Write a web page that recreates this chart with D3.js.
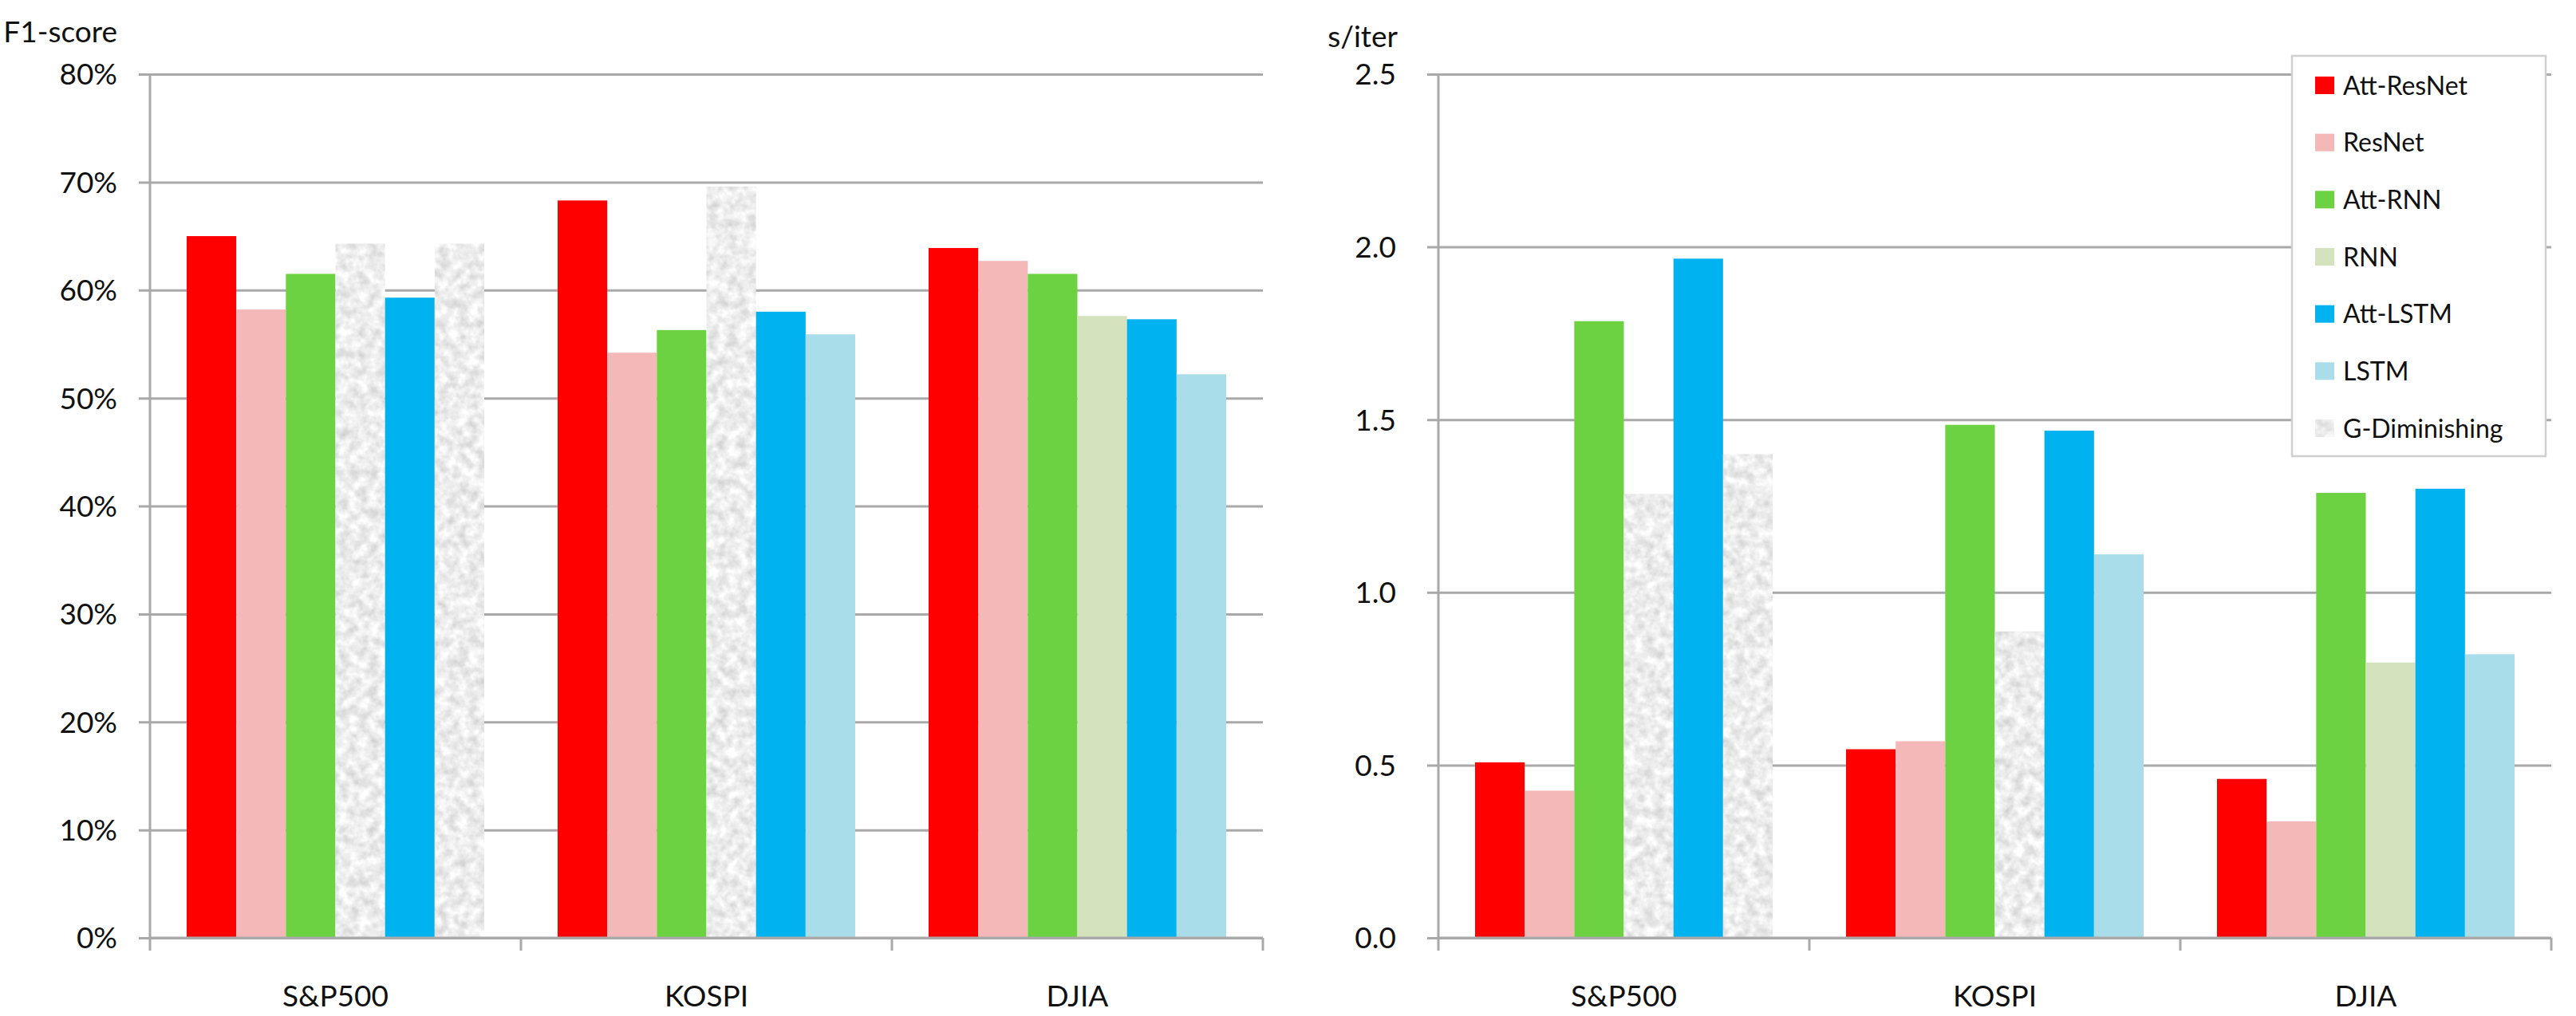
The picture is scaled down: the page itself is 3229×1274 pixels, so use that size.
<!DOCTYPE html>
<html>
<head>
<meta charset="utf-8">
<script src="https://cdn.jsdelivr.net/npm/d3@7"></script>
<style>
  html, body { margin: 0; padding: 0; background: #fff; }
  svg { display: block; }
  text { font-family: Lato, "Open Sans", sans-serif; fill: #111; }
</style>
</head>
<body>
<svg id="chart" width="3229" height="1274"></svg>
<script>
// ---------- data ----------
const categories = ["S&P500", "KOSPI", "DJIA"];
const seriesNames = ["Att-ResNet", "ResNet", "Att-RNN", "RNN", "Att-LSTM", "LSTM"];
const legendNames = ["Att-ResNet", "ResNet", "Att-RNN", "RNN", "Att-LSTM", "LSTM", "G-Diminishing"];
const seriesColors = ["#ff0000", "#f4b8b8", "#6cd241", "#d4e3bd", "#00b2f0", "#a8dde9"];

// F1-score per series, one value per category (S&P500, KOSPI, DJIA)
const f1AttResNet = [0.650, 0.683, 0.639];
const f1ResNet    = [0.582, 0.542, 0.627];
const f1AttRNN    = [0.615, 0.563, 0.615];
const f1RNN       = [0.643, 0.696, 0.576];
const f1AttLSTM   = [0.593, 0.580, 0.573];
const f1LSTM      = [0.643, 0.559, 0.522];

// seconds per iteration
const tAttResNet = [0.508, 0.546, 0.460];
const tResNet    = [0.426, 0.569, 0.337];
const tAttRNN    = [1.785, 1.485, 1.288];
const tRNN       = [1.285, 0.887, 0.797];
const tAttLSTM   = [1.966, 1.468, 1.300];
const tLSTM      = [1.400, 1.110, 0.821];

// G-Diminishing flags (bar drawn with the textured fill)
const gDimRNN  = [true, true, false];
const gDimLSTM = [true, false, false];

const f1Ticks = [0, 0.1, 0.2, 0.3, 0.4, 0.5, 0.6, 0.7, 0.8];
const tTicks  = [0, 0.5, 1.0, 1.5, 2.0, 2.5];

// ---------- build rows ----------
const f1Series = [f1AttResNet, f1ResNet, f1AttRNN, f1RNN, f1AttLSTM, f1LSTM];
const tSeries  = [tAttResNet, tResNet, tAttRNN, tRNN, tAttLSTM, tLSTM];
const flagOf = (si, ci) => (si === 3 ? gDimRNN[ci] : si === 5 ? gDimLSTM[ci] : false);

function rows(seriesArr) {
  const out = [];
  categories.forEach((c, ci) => {
    seriesNames.forEach((s, si) => {
      out.push({cat: c, ser: s, si, value: seriesArr[si][ci], gdim: flagOf(si, ci)});
    });
  });
  return out;
}

const svg = d3.select("#chart");
const defs = svg.append("defs");
const filt = defs.append("filter").attr("id", "gtex")
  .attr("x", 0).attr("y", 0).attr("width", 1).attr("height", 1)
  .attr("color-interpolation-filters", "sRGB");
filt.append("feTurbulence").attr("type", "fractalNoise")
  .attr("baseFrequency", "0.08").attr("numOctaves", 3).attr("seed", 7).attr("result", "t");
filt.append("feColorMatrix").attr("in", "t").attr("type", "matrix")
  .attr("values", "0.28 0 0 0 0.79  0.28 0 0 0 0.79  0.28 0 0 0 0.79  0 0 0 0 1").attr("result", "g");
filt.append("feComposite").attr("in", "g").attr("in2", "SourceGraphic").attr("operator", "in");

const gridColor = "#a9a9a9";
const plotTop = 93, plotBottom = 1176;

function panel(opts) {
  const g = svg.append("g");
  const x = d3.scaleBand().domain(categories).range([opts.x0, opts.x1]);
  const xi = d3.scaleBand().domain(seriesNames).range([0, x.bandwidth()]).paddingOuter(0.74);
  const y = d3.scaleLinear().domain([0, opts.max]).range([plotBottom, plotTop]);

  // gridlines + y tick labels via axis
  const yAxis = d3.axisLeft(y).tickValues(opts.ticks).tickFormat(opts.fmt)
    .tickSize(-(opts.x1 - opts.x0)).tickPadding(0);
  const ya = g.append("g").attr("transform", `translate(${opts.x0},0)`).call(yAxis);
  ya.select(".domain").remove();
  ya.selectAll(".tick line").attr("stroke", gridColor).attr("stroke-width", 3)
    .attr("x1", -14);
  ya.selectAll(".tick text").attr("x", -opts.labelGap).attr("dy", "0.35em")
    .style("font-size", "37px").style("font-family", "Lato, sans-serif").attr("fill", "#111");

  // bars
  g.append("g").selectAll("rect").data(rows(opts.data)).join("rect")
    .attr("x", d => x(d.cat) + xi(d.ser))
    .attr("width", xi.bandwidth())
    .attr("y", d => y(d.value))
    .attr("height", d => y(0) - y(d.value))
    .attr("fill", d => d.gdim ? "#eeeeee" : seriesColors[d.si])
    .attr("filter", d => d.gdim ? "url(#gtex)" : null);

  // y axis line
  g.append("line").attr("x1", opts.x0).attr("x2", opts.x0).attr("y1", plotTop).attr("y2", plotBottom)
    .attr("stroke", gridColor).attr("stroke-width", 3);

  // x axis
  const xAxis = d3.axisBottom(x).tickSize(0).tickPadding(0);
  const xa = g.append("g").attr("transform", `translate(0,${plotBottom})`).call(xAxis);
  xa.select(".domain").attr("stroke", gridColor).attr("stroke-width", 3)
    .attr("d", `M${opts.x0},0H${opts.x1}`);
  xa.selectAll(".tick text").attr("y", 86).attr("dy", 0)
    .style("font-size", "37px").style("font-family", "Lato, sans-serif").attr("fill", "#111");
  // category separator ticks
  const bounds = categories.map(c => x(c)).concat([opts.x1]);
  xa.append("g").selectAll("line").data(bounds).join("line")
    .attr("x1", d => d).attr("x2", d => d).attr("y1", 0).attr("y2", 16)
    .attr("stroke", gridColor).attr("stroke-width", 3);

  // axis title
  g.append("text").attr("x", opts.titleX).attr("y", opts.titleY).attr("text-anchor", "end")
    .style("font-size", "37px").text(opts.title);
  return g;
}

panel({x0: 188, x1: 1583, max: 0.8, ticks: f1Ticks, fmt: d3.format(".0%"),
       data: f1Series, labelGap: 41, title: "F1-score", titleX: 147, titleY: 53});
panel({x0: 1803, x1: 3198, max: 2.5, ticks: tTicks, fmt: d3.format(".1f"),
       data: tSeries, labelGap: 53, title: "s/iter", titleX: 1752, titleY: 59});

// ---------- legend ----------
const lg = svg.append("g");
const lx = 2873, ly = 70, lw = 318, lh = 502;
lg.append("rect").attr("x", lx).attr("y", ly).attr("width", lw).attr("height", lh)
  .attr("fill", "#fff").attr("stroke", "#cfcfcf").attr("stroke-width", 2.5);
const ls = d3.scalePoint().domain(legendNames).range([107, 537]);
const items = lg.selectAll("g.item").data(legendNames).join("g").attr("class", "item")
  .attr("transform", d => `translate(0,${ls(d)})`);
items.append("rect").attr("x", 2902).attr("y", -11).attr("width", 24).attr("height", 22)
  .attr("fill", (d, i) => i < 6 ? seriesColors[i] : "#eeeeee")
  .attr("filter", (d, i) => i < 6 ? null : "url(#gtex)");
items.append("text").attr("x", 2937).attr("y", 0).attr("dy", "0.36em")
  .style("font-size", "32px").text(d => d);
</script>
</body>
</html>
